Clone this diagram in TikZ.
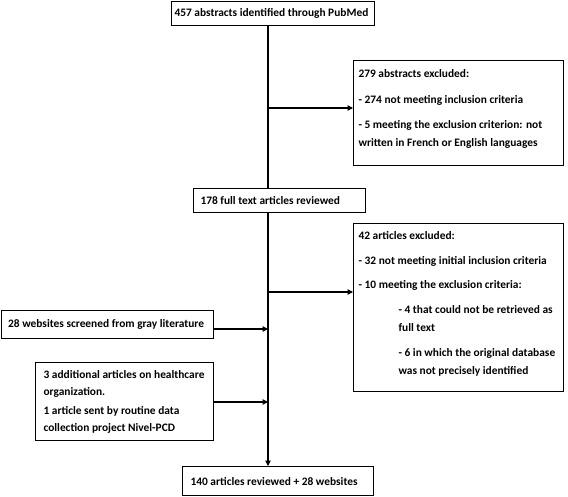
\documentclass[tikz,border=0pt]{standalone}
\usepackage{fontspec}
\setmainfont{Carlito}
\usetikzlibrary{arrows.meta}
\begin{document}
\begin{tikzpicture}[x=1pt,y=-1pt,
  box/.style={draw, line width=1.1pt, anchor=north west, inner ysep=0pt, font=\bfseries\fontsize{11.4pt}{13pt}\selectfont},
  ln/.style={line width=1.1pt},
  arr/.style={ln, -{Triangle[length=5.5pt,width=5.5pt]}}]
\useasboundingbox (0,0) rectangle (568,497);
% main boxes
\node[box, inner xsep=3pt, minimum height=24pt] (b1) at (171,1) {\makebox[197pt][l]{457 abstracts identified through PubMed}};
\node[box, inner xsep=7pt, minimum height=24pt] (b2) at (193,188) {\makebox[158pt][l]{178 full text articles reviewed}};
\node[box, inner xsep=8pt, minimum height=29pt] (b3) at (182,466) {\makebox[175pt][l]{140 articles reviewed + 28 websites}};
% right boxes
\node[box, inner xsep=5pt] (r1) at (353,60) {\parbox[c][105pt][t]{200pt}{\fontsize{11.4pt}{18pt}\selectfont\raggedright\parindent=0pt\parskip=0pt
\vspace*{9pt}279 abstracts excluded:\par\vspace{8pt}
- 274 not meeting inclusion criteria\par\vspace{7pt}
- 5 meeting the exclusion criterion: not\\written in French or English languages\par}};
\node[box, inner xsep=5pt] (r2) at (353,223) {\parbox[c][168pt][t]{200pt}{\fontsize{11.4pt}{18pt}\selectfont\raggedright\parindent=0pt\parskip=0pt
\vspace*{8pt}42 articles excluded:\par\vspace{7pt}
- 32 not meeting initial inclusion criteria\par\vspace{6pt}
- 10 meeting the exclusion criteria:\par\vspace{7pt}
{\leftskip=40pt - 4 that could not be retrieved as\\full text\par}\vspace{7pt}
{\leftskip=40pt - 6 in which the original database\\was not precisely identified\par}}};
% left boxes
\node[box, inner xsep=7pt, minimum height=28pt] (l1) at (0.6,310) {\makebox[198.4pt][l]{28 websites screened from gray literature}};
\node[box, inner xsep=8pt] (l2) at (35,362) {\parbox[c][78pt][t]{162pt}{\fontsize{11.4pt}{17pt}\selectfont\raggedright\parindent=0pt\parskip=0pt
\vspace*{8pt}3 additional articles on healthcare\\organization.\par\vspace{2pt}
1 article sent by routine data\\collection project Nivel-PCD\par}};
% spine and junctions
\coordinate (spine) at (268,0);
\coordinate (a1) at (268,108);
\coordinate (a2) at (268,292);
\coordinate (a3) at (268,329);
\coordinate (a4) at (268,402);
\draw[ln] (spine |- b1.south) -- (spine |- b2.north);
\draw[arr] (spine |- b2.south) -- (spine |- b3.north);
\draw[arr] (a1) -- (a1 -| r1.west);
\draw[arr] (a2) -- (a2 -| r2.west);
\draw[arr] (a3 -| l1.east) -- (a3);
\draw[arr] (a4 -| l2.east) -- (a4);
\end{tikzpicture}
\end{document}
